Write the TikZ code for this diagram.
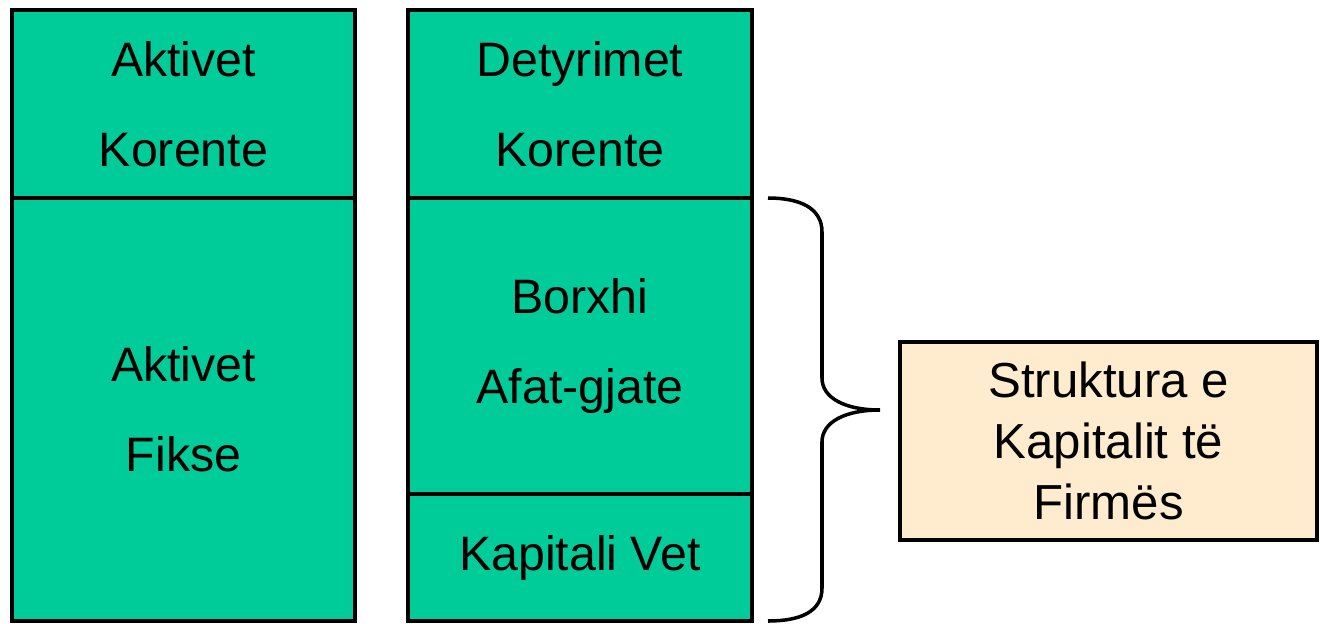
\documentclass[tikz,border=0pt]{standalone}
\usepackage{fontspec}
\setmainfont{Liberation Sans}
\definecolor{cellgreen}{RGB}{0,204,153}
\definecolor{capbeige}{RGB}{255,235,205}
\begin{document}
\begin{tikzpicture}[x=0.02cm,y=-0.02cm,
	cell/.style={draw,line width=2pt,fill=cellgreen,inner sep=0pt,align=center,font=\fontsize{27.5}{51}\selectfont},
	capbox/.style={draw,line width=2pt,fill=capbeige,inner sep=0pt,align=center,font=\fontsize{28}{34.5}\selectfont}]
		\useasboundingbox (0,0) rectangle (1320,623);
		\node[cell,minimum width=6.86cm,minimum height=3.76cm] (akor) at (183.5,104) {Aktivet\\Korente};
		\node[cell,minimum width=6.86cm,minimum height=8.46cm] (afik) at (183.5,409.5) {Aktivet\\Fikse};
		\node[cell,minimum width=6.88cm,minimum height=3.76cm] (dkor) at (580,104) {Detyrimet\\Korente};
		\node[cell,minimum width=6.88cm,minimum height=5.92cm] (borxhi) at (580,346) {Borxhi\\Afat-gjate};
		\node[cell,minimum width=6.88cm,minimum height=2.54cm] (kvet) at (580,557.5) {Kapitali Vet};
		\node[capbox,minimum width=8.34cm,minimum height=3.96cm] (struktura) at (1108.5,441) {Struktura e\\Kapitalit të\\Firmës};
		\draw[line width=2pt] (768,198) .. controls (800,198) and (822,208) .. (822,232) -- (822,378) .. controls (822,398) and (845,410) .. (880,410) .. controls (845,410) and (822,422) .. (822,442) -- (822,588) .. controls (822,612) and (800,621) .. (768,621);
\end{tikzpicture}
\end{document}
